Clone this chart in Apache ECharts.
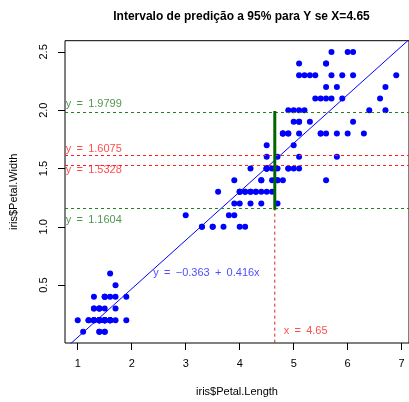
<!DOCTYPE html>
<html>
<head>
<meta charset="utf-8">
<script src="https://cdn.jsdelivr.net/npm/echarts@6/dist/echarts.min.js"></script>
<style>html,body{margin:0;padding:0;background:#fff;}#c{width:409px;height:402px;}</style>
</head>
<body>
<div id="c"></div>
<script>
// iris petal data
const petalLength = [
1.4,1.4,1.3,1.5,1.4,1.7,1.4,1.5,1.4,1.5,1.5,1.6,1.4,1.1,1.2,1.5,1.3,1.4,1.7,1.5,1.7,1.5,1.0,1.7,1.9,1.6,1.6,1.5,1.4,1.6,1.6,1.5,1.5,1.4,1.5,1.2,1.3,1.4,1.3,1.5,1.3,1.3,1.3,1.6,1.9,1.4,1.6,1.4,1.5,1.4,
4.7,4.5,4.9,4.0,4.6,4.5,4.7,3.3,4.6,3.9,3.5,4.2,4.0,4.7,3.6,4.4,4.5,4.1,4.5,3.9,4.8,4.0,4.9,4.7,4.3,4.4,4.8,5.0,4.5,3.5,3.8,3.7,3.9,5.1,4.5,4.5,4.7,4.4,4.1,4.0,4.4,4.6,4.0,3.3,4.2,4.2,4.2,4.3,3.0,4.1,
6.0,5.1,5.9,5.6,5.8,6.6,4.5,6.3,5.8,6.1,5.1,5.3,5.5,5.0,5.1,5.3,5.5,6.7,6.9,5.0,5.7,4.9,6.7,4.9,5.7,6.0,4.8,4.9,5.6,5.8,6.1,6.4,5.6,5.1,5.6,6.1,5.6,5.5,4.8,5.4,5.6,5.1,5.1,5.9,5.7,5.2,5.0,5.2,5.4,5.1];
const petalWidth = [
0.2,0.2,0.2,0.2,0.2,0.4,0.3,0.2,0.2,0.1,0.2,0.2,0.1,0.1,0.2,0.4,0.4,0.3,0.3,0.3,0.2,0.4,0.2,0.5,0.2,0.2,0.4,0.2,0.2,0.2,0.2,0.4,0.1,0.2,0.2,0.2,0.2,0.1,0.2,0.2,0.3,0.3,0.2,0.6,0.4,0.3,0.2,0.2,0.2,0.2,
1.4,1.5,1.5,1.3,1.5,1.3,1.6,1.0,1.3,1.4,1.0,1.5,1.0,1.4,1.3,1.4,1.5,1.0,1.5,1.1,1.8,1.3,1.5,1.2,1.3,1.4,1.4,1.7,1.5,1.0,1.1,1.0,1.2,1.6,1.5,1.6,1.5,1.3,1.3,1.3,1.2,1.4,1.2,1.0,1.3,1.2,1.3,1.3,1.1,1.3,
2.5,1.9,2.1,1.8,2.2,2.1,1.7,1.8,1.8,2.5,2.0,1.9,2.1,2.0,2.4,2.3,1.8,2.2,2.3,1.5,2.3,2.0,2.0,1.8,2.1,1.8,1.8,1.8,2.1,1.6,1.9,2.0,2.2,1.5,1.4,2.3,2.4,1.8,1.8,2.1,2.4,2.3,1.9,2.3,2.5,2.3,1.9,2.0,2.3,1.8];
const coef = [-0.363, 0.416];           // intercept, slope
const x0 = 4.65;
const predLimits = [1.1604, 1.9799];    // prediction interval
const confLimits = [1.5328, 1.6075];    // confidence interval
const xTicks = [1, 2, 3, 4, 5, 6, 7];
const yTicks = [0.5, 1.0, 1.5, 2.0, 2.5];

const xMin = 0.764, xMax = 7.136, yMin = 0.004, yMax = 2.596;
const GREEN = '#237d23', DKGREEN = '#006400', RED = '#ff2020', VRED = '#d42020';
const FONT = 'Liberation Sans, Arial, Helvetica, sans-serif';
const TS = '\u2009';

const pts = petalLength.map((v, i) => [v, petalWidth[i]]);
const textPt = (x, y, txt, color, pos) => ({
  type: 'scatter', symbolSize: 0, silent: true, z: 6,
  data: [[x, y]],
  label: { show: true, position: pos || 'right', distance: 0, formatter: txt,
    color: color, fontSize: 11, fontFamily: FONT }
});
const eqLabel = v => 'y' + TS + ' = ' + TS + v.toFixed(4);

const chart = echarts.init(document.getElementById('c'), null, { renderer: 'canvas' });
chart.setOption({
  animation: false,
  backgroundColor: '#fff',
  title: {
    text: 'Intervalo de predição a 95% para Y se X=4.65',
    left: 236.5, top: 6, textAlign: 'center',
    textStyle: { fontSize: 12, fontWeight: 'bold', color: '#000', fontFamily: FONT }
  },
  grid: { left: 63.3, top: 40.7, width: 347.1, height: 305.3,
    show: true, borderColor: '#000', borderWidth: 1, backgroundColor: 'transparent' },
  xAxis: {
    type: 'value', min: xMin, max: xMax,
    name: 'iris$Petal.Length', nameLocation: 'middle', nameGap: 43,
    nameTextStyle: { fontSize: 11, color: '#000', fontFamily: FONT },
    axisLine: { show: false },
    splitLine: { show: false },
    axisTick: { show: true, length: 7, customValues: xTicks, lineStyle: { color: '#000' } },
    axisLabel: { customValues: xTicks, margin: 15, fontSize: 11, color: '#000', fontFamily: FONT }
  },
  yAxis: {
    type: 'value', min: yMin, max: yMax,
    name: 'iris$Petal.Width', nameLocation: 'middle', nameGap: 46,
    nameTextStyle: { fontSize: 11, color: '#000', fontFamily: FONT },
    axisLine: { show: false },
    splitLine: { show: false },
    axisTick: { show: true, length: 7, customValues: yTicks, lineStyle: { color: '#000' } },
    axisLabel: { customValues: yTicks, rotate: 90, margin: 16, fontSize: 11, color: '#000',
      fontFamily: FONT, formatter: v => v.toFixed(1) }
  },
  series: [
    {
      type: 'scatter', data: pts, symbolSize: 6, itemStyle: { color: '#0000ff', opacity: 1 }, z: 3,
      markLine: {
        silent: true, symbol: ['none', 'none'], label: { show: false }, animation: false,
        data: [
          { yAxis: predLimits[1], lineStyle: { color: GREEN, type: [3, 3], width: 1 } },
          { yAxis: predLimits[0], lineStyle: { color: GREEN, type: [3, 3], width: 1 } },
          { yAxis: confLimits[1], lineStyle: { color: RED, type: [3, 3], width: 1 } },
          { yAxis: confLimits[0], lineStyle: { color: RED, type: [3, 3], width: 1 } }
        ]
      }
    },
    {
      type: 'line', showSymbol: false, clip: true, z: 4,
      data: [[xMin, coef[0] + coef[1] * xMin], [xMax, coef[0] + coef[1] * xMax]],
      lineStyle: { color: '#0000ff', width: 1 }
    },
    {
      type: 'line', showSymbol: false, clip: true, z: 4,
      data: [[x0, yMin - 0.1], [x0, predLimits[0]]],
      lineStyle: { color: VRED, width: 1, type: [3, 3] }
    },
    {
      type: 'line', showSymbol: false, z: 5,
      data: [[x0, predLimits[0]], [x0, predLimits[1]]],
      lineStyle: { color: DKGREEN, width: 3, cap: 'square' }
    },
    textPt(0.777, 2.054, eqLabel(predLimits[1]), GREEN),
    textPt(0.777, 1.664, eqLabel(confLimits[1]), RED),
    textPt(0.777, 1.490, eqLabel(confLimits[0]), RED),
    textPt(0.777, 1.057, eqLabel(predLimits[0]), GREEN),
    textPt(3.384, 0.607, 'y' + TS + ' = ' + TS + '\u2212' + Math.abs(coef[0]).toFixed(3) + TS + ' + ' + TS + coef[1].toFixed(3) + 'x', '#2020ff', 'inside'),
    textPt(4.816, 0.106, 'x' + TS + ' = ' + TS + x0.toFixed(2), RED)
  ]
});
</script>
</body>
</html>
